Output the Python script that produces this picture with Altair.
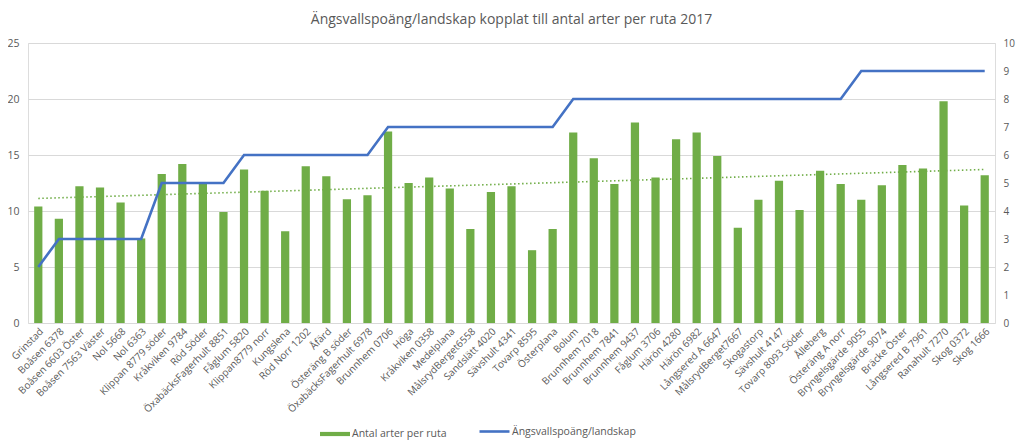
import altair as alt
import pandas as pd

sites = [
    "Grinstad", "Boåsen 6378", "Boåsen 6603 Öster", "Boåsen 7563 Väster", "Nol 5668",
    "Nol 6363", "Klippan 8779 söder", "Kråkviken 9784", "Röd Söder", "ÖxabäcksFagerhult 8851",
    "Fåglum 5820", "Klippan8779 norr", "Kungslena", "Röd Norr 1202", "Åfärd",
    "Österäng B söder", "ÖxabäcksFagerhult 6978", "Brunnhem 0706", "Höga", "Kråkviken 0358",
    "Medelplana", "MålsrydBerget6558", "Sandslätt 4020", "Sävshult 4341", "Tovarp 8595",
    "Österplana", "Bolum", "Brunnhem 7018", "Brunnhem 7841", "Brunnhem 9437",
    "Fåglum 3706", "Härön 4280", "Härön 6982", "Långsered A 6647", "MålsrydBerget7667",
    "Skogastorp", "Sävshult 4147", "Tovarp 8093 Söder", "Ålleberg", "Österäng A norr",
    "Bryngelsgärde 9055", "Bryngelsgärde 9074", "Bräcke Öster", "Långsered B 7961", "Ranahult 7270",
    "Skog 0372", "Skog 1666",
]

species = [
    10.4, 9.3, 12.2, 12.1, 10.75,
    7.55, 13.3, 14.2, 12.4, 9.9,
    13.7, 11.8, 8.2, 14.0, 13.1,
    11.05, 11.4, 17.1, 12.5, 13.0,
    12.0, 8.4, 11.7, 12.2, 6.5,
    8.4, 17.0, 14.7, 12.4, 17.9,
    13.0, 16.4, 17.0, 14.9, 8.5,
    11.0, 12.7, 10.1, 13.6, 12.4,
    11.0, 12.3, 14.1, 13.8, 19.8,
    10.5, 13.2,
]

score = [
    2, 3, 3, 3, 3,
    3, 5, 5, 5, 5,
    6, 6, 6, 6, 6,
    6, 6, 7, 7, 7,
    7, 7, 7, 7, 7,
    7, 8, 8, 8, 8,
    8, 8, 8, 8, 8,
    8, 8, 8, 8, 8,
    9, 9, 9, 9, 9,
    9, 9,
]

bar_label = "Antal arter per ruta"
line_label = "Ängsvallspoäng/landskap"
title_text = "Ängsvallspoäng/landskap kopplat till antal arter per ruta 2017"

df = pd.DataFrame({
    "site": sites,
    "species": species,
    "score": score,
    "idx": list(range(1, len(sites) + 1)),
    "bar_lbl": [bar_label] * len(sites),
    "line_lbl": [line_label] * len(sites),
})

FONT = "Open Sans"
GREY = "#595959"

xenc = alt.X(
    "site:N", sort=sites, title=None,
    scale=alt.Scale(paddingInner=0.6, paddingOuter=0.3),
    axis=alt.Axis(labelAngle=-45, labelFontSize=10, labelColor=GREY, labelFont=FONT,
                  ticks=False, domain=False, labelPadding=3, grid=False),
)

base = alt.Chart(df)

bars = base.mark_bar().encode(
    x=xenc,
    y=alt.Y("species:Q", title=None, scale=alt.Scale(domain=[0, 25], nice=False),
            axis=alt.Axis(values=[0, 5, 10, 15, 20, 25], labelColor=GREY, labelFont=FONT,
                          labelFontSize=10.5, ticks=False, domain=False, labelPadding=9,
                          grid=True, gridColor="#d9d9d9")),
    fill=alt.Fill("bar_lbl:N", title=None,
                  scale=alt.Scale(domain=[bar_label], range=["#70ad47"]),
                  legend=alt.Legend(orient="none", legendX=292, legendY=376, padding=0,
                                    symbolType="M-1,-0.14L1,-0.14L1,0.14L-1,0.14Z",
                                    symbolSize=900, symbolStrokeWidth=0,
                                    labelFont=FONT, labelFontSize=10.5, labelColor=GREY,
                                    labelOffset=2)),
)

trend = base.transform_joinaggregate(
    mx="mean(idx)", my="mean(species)"
).transform_calculate(
    dxy="(datum.idx - datum.mx) * (datum.species - datum.my)",
    dxx="(datum.idx - datum.mx) * (datum.idx - datum.mx)",
).transform_joinaggregate(
    sxy="sum(dxy)", sxx="sum(dxx)"
).transform_calculate(
    fit="datum.my + datum.sxy / datum.sxx * (datum.idx - datum.mx)"
).mark_line(color="#70ad47", strokeDash=[1.5, 2.5], strokeWidth=1.6).encode(
    x=xenc,
    y=alt.Y("fit:Q", scale=alt.Scale(domain=[0, 25], nice=False), axis=None),
)

line = base.mark_line(strokeWidth=2.6).encode(
    x=xenc,
    y=alt.Y("score:Q", title=None, scale=alt.Scale(domain=[0, 10], nice=False),
            axis=alt.Axis(orient="right", values=list(range(0, 11)), labelColor=GREY,
                          labelFont=FONT, labelFontSize=10, ticks=False, domain=False,
                          labelPadding=8, grid=False)),
    stroke=alt.Stroke("line_lbl:N", title=None,
                      scale=alt.Scale(domain=[line_label], range=["#4472c4"]),
                      legend=alt.Legend(orient="none", legendX=450, legendY=372, padding=0,
                                        symbolType="stroke", symbolSize=900,
                                        symbolStrokeWidth=2.6,
                                        labelFont=FONT, labelFontSize=10.5, labelColor=GREY,
                                        labelOffset=1)),
)

chart = alt.layer(bars, trend, line).resolve_scale(
    y="independent", fill="independent", stroke="independent"
).properties(
    width=967, height=280,
    title=alt.TitleParams(title_text, font=FONT, fontSize=14, fontWeight="normal",
                          color=GREY, anchor="middle", offset=11),
    autosize=alt.AutoSizeParams(type="none"),
    padding={"left": 20, "top": 35, "right": 21, "bottom": 117},
).configure_view(stroke=None).configure(background="white")

chart.save("out.html", embed_options={"renderer": "svg", "actions": False})
